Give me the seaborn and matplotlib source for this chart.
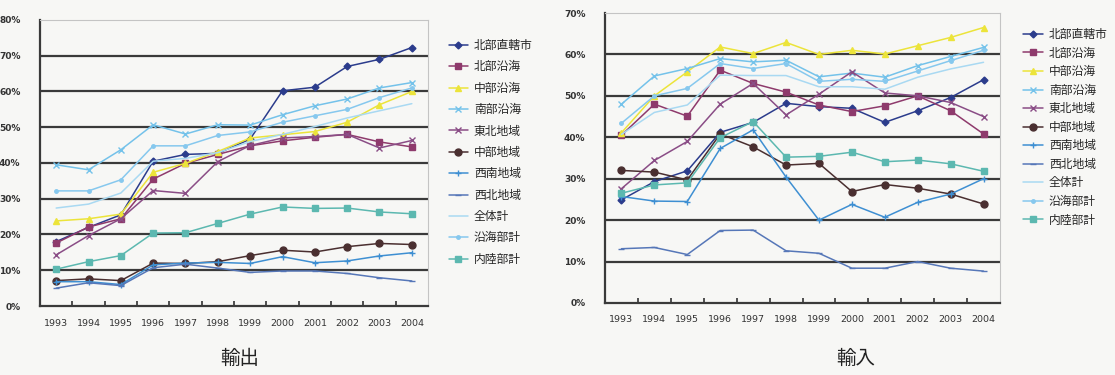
import matplotlib
matplotlib.use("Agg")
import matplotlib.pyplot as plt
import seaborn as sns
import pandas as pd

# ---- data (share, %) ----
years = [1993, 1994, 1995, 1996, 1997, 1998, 1999, 2000, 2001, 2002, 2003, 2004]
regions = ["北部直轄市", "北部沿海", "中部沿海", "南部沿海", "東北地域", "中部地域",
           "西南地域", "西北地域", "全体計", "沿海部計", "内陸部計"]

exp_hokubu_chokkatsu = [18.0, 22.0, 25.5, 40.5, 42.4, 42.7, 46.7, 60.2, 61.2, 67.0, 69.0, 72.3]
exp_hokubu_engan = [17.6, 22.1, 24.4, 35.5, 39.9, 42.4, 44.8, 46.2, 47.2, 48.0, 45.9, 44.5]
exp_chubu_engan = [23.8, 24.4, 25.7, 37.4, 39.9, 43.2, 47.0, 47.9, 48.8, 51.4, 56.3, 60.0]
exp_nanbu_engan = [39.5, 38.1, 43.7, 50.7, 48.1, 50.7, 50.6, 53.5, 56.0, 57.9, 61.0, 62.5]
exp_tohoku = [14.3, 19.7, 24.4, 32.3, 31.5, 40.4, 44.9, 47.0, 47.4, 48.0, 44.2, 46.3]
exp_chubu = [7.1, 7.6, 7.1, 12.0, 11.9, 12.4, 14.1, 15.6, 15.1, 16.6, 17.5, 17.2]
exp_seinan = [6.8, 6.8, 6.0, 11.5, 12.0, 12.2, 11.9, 13.8, 12.1, 12.6, 14.0, 14.9]
exp_seihoku = [5.0, 6.5, 5.7, 10.7, 11.7, 10.6, 9.4, 9.8, 9.8, 9.1, 7.9, 7.0]
exp_zentai = [27.4, 28.5, 31.6, 40.5, 41.3, 42.9, 46.0, 48.0, 50.2, 52.6, 54.6, 56.6]
exp_engan = [32.2, 32.2, 35.3, 44.8, 44.8, 47.7, 48.7, 51.4, 53.2, 55.0, 58.3, 61.0]
exp_nairiku = [10.3, 12.4, 14.1, 20.4, 20.5, 23.1, 25.7, 27.7, 27.3, 27.4, 26.3, 25.8]

imp_hokubu_chokkatsu = [24.9, 29.3, 31.9, 41.2, 43.6, 48.2, 47.4, 47.0, 43.6, 46.4, 49.6, 53.9]
imp_hokubu_engan = [40.5, 48.0, 45.1, 56.2, 53.0, 50.9, 47.8, 46.2, 47.6, 50.0, 46.4, 40.8]
imp_chubu_engan = [41.1, 50.0, 55.8, 61.8, 60.2, 62.9, 60.0, 61.0, 60.1, 62.1, 64.1, 66.5]
imp_nanbu_engan = [48.0, 54.8, 56.6, 59.0, 58.2, 58.6, 54.6, 55.5, 54.5, 57.3, 59.5, 61.7]
imp_tohoku = [27.6, 34.4, 39.0, 48.0, 53.0, 45.4, 50.4, 55.8, 50.7, 50.0, 48.4, 45.0]
imp_chubu = [32.0, 31.6, 29.7, 40.8, 37.7, 33.3, 33.7, 26.9, 28.6, 27.7, 26.3, 23.9]
imp_seinan = [25.7, 24.6, 24.5, 37.3, 41.8, 30.4, 20.0, 23.8, 20.7, 24.3, 26.3, 30.0]
imp_seihoku = [13.1, 13.4, 11.7, 17.5, 17.6, 12.6, 12.0, 8.4, 8.4, 10.0, 8.4, 7.7]
imp_zentai = [40.7, 46.0, 47.8, 55.0, 54.9, 54.9, 52.2, 52.2, 51.6, 54.5, 56.5, 58.1]
imp_engan = [43.4, 50.0, 51.8, 57.8, 56.6, 57.8, 53.5, 54.0, 53.5, 56.0, 58.5, 61.0]
imp_nairiku = [26.5, 28.5, 29.0, 39.9, 43.8, 35.2, 35.4, 36.4, 34.1, 34.5, 33.6, 31.8]

export_series = [exp_hokubu_chokkatsu, exp_hokubu_engan, exp_chubu_engan, exp_nanbu_engan,
                 exp_tohoku, exp_chubu, exp_seinan, exp_seihoku, exp_zentai, exp_engan,
                 exp_nairiku]
import_series = [imp_hokubu_chokkatsu, imp_hokubu_engan, imp_chubu_engan, imp_nanbu_engan,
                 imp_tohoku, imp_chubu, imp_seinan, imp_seihoku, imp_zentai, imp_engan,
                 imp_nairiku]

# ---- style per region ----
colors = ["#2b3c8c", "#8e3a6c", "#ece43a", "#74c2ea", "#8a4d86", "#4a2f30",
          "#3e8fd2", "#5677b8", "#a9d9f2", "#86c8ee", "#5cb8b0"]
markers = ["D", "s", "^", "x", "x", "o", "+", "_", "", ".", "s"]
msizes = [3.5, 4.5, 4.5, 4.5, 4.5, 5, 5, 5, 0, 5, 4.5]

sns.set_theme(style="white")
plt.rcParams["font.family"] = ["Noto Sans CJK JP", "DejaVu Sans"]
bg = "#f7f7f5"

fig = plt.figure(figsize=(11.15, 3.75), dpi=100, facecolor=bg)
ax1 = fig.add_axes([40 / 1115, 1 - 306 / 375, 388 / 1115, 286 / 375])
ax2 = fig.add_axes([605 / 1115, 1 - 303 / 375, 395 / 1115, 290 / 375])


def draw(ax, series, ymax):
    ax.set_facecolor(bg)
    for name, vals, c, m, ms in zip(regions, series, colors, markers, msizes):
        df = pd.DataFrame({"idx": range(len(years)), "value": vals})
        sns.lineplot(data=df, x="idx", y="value", ax=ax, color=c, marker=m if m else None,
                     markersize=ms, markeredgecolor=c, markeredgewidth=1.0,
                     linewidth=1.1, label=name, sort=False)
    if ax.get_legend() is not None:
        ax.get_legend().remove()
    ax.set_xlim(-0.5, len(years) - 0.5)
    ax.set_ylim(0, ymax)
    ax.set_xlabel("")
    ax.set_ylabel("")
    ax.set_xticks(range(len(years)))
    ax.set_xticklabels([str(y) for y in years], fontsize=6.8, color="#333333",
                       family="DejaVu Sans")
    ax.set_xticks([i + 0.5 for i in range(len(years) - 1)], minor=True)
    ax.tick_params(axis="x", which="major", length=0, pad=9)
    ax.tick_params(axis="x", which="minor", direction="in", length=3.5, width=1.2,
                   color="#333333", bottom=True)
    yt = list(range(0, ymax + 1, 10))
    ax.set_yticks(yt)
    ax.set_yticklabels([f"{v}%" for v in yt], fontsize=6.5, color="#333333",
                       family="DejaVu Sans", fontweight="bold")
    ax.tick_params(axis="y", length=0, pad=14)
    for v in yt[1:-1]:
        ax.axhline(v, color="#3a3a3a", linewidth=1.6, zorder=0.5)
    for s in ["left", "bottom"]:
        ax.spines[s].set_color("#3a3a3a")
        ax.spines[s].set_linewidth(1.6)
    for s in ["top", "right"]:
        ax.spines[s].set_color("#c4c4c4")
        ax.spines[s].set_linewidth(0.8)
    return ax.get_legend_handles_labels()


h1, l1 = draw(ax1, export_series, 80)
h2, l2 = draw(ax2, import_series, 70)

fig.legend(h1, l1, loc="upper left", bbox_to_anchor=(449 / 1115, 1 - 39 / 375),
           frameon=False, fontsize=8.5, labelspacing=0.71, handlelength=1.6,
           handletextpad=0.5, borderaxespad=0, borderpad=0)
fig.legend(h2, l2, loc="upper left", bbox_to_anchor=(1023 / 1115, 1 - 28 / 375),
           frameon=False, fontsize=8.5, labelspacing=0.47, handlelength=1.7,
           handletextpad=0.5, borderaxespad=0, borderpad=0)

fig.text(240 / 1115, 1 - 358 / 375, "輸出", ha="center", va="center", fontsize=14,
         color="#222222")
fig.text(856 / 1115, 1 - 358 / 375, "輸入", ha="center", va="center", fontsize=14,
         color="#222222")

fig.savefig("out.png", dpi=100, facecolor=bg)
